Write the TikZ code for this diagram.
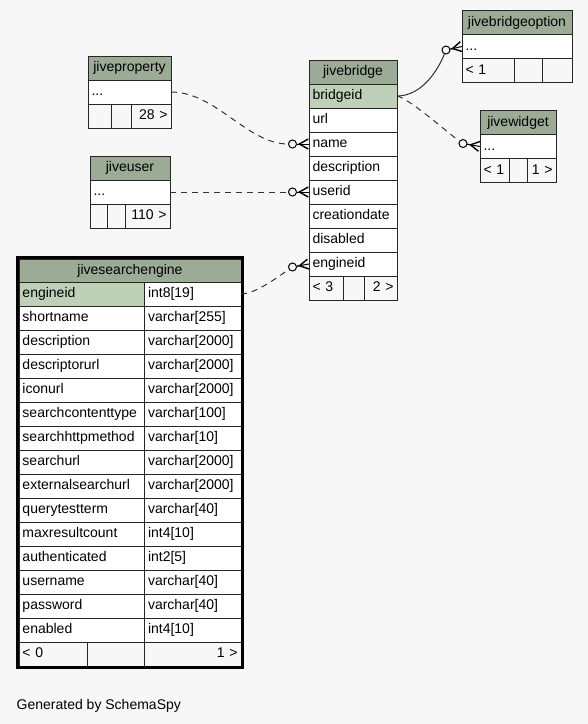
\documentclass[tikz,border=0pt]{standalone}
\usepackage{fontspec}
\setmainfont{Liberation Sans}
\usetikzlibrary{arrows.meta, positioning, fit}
\definecolor{cHead}{HTML}{9BAB96}
\definecolor{cKey}{HTML}{BED1B8}
\definecolor{cBack}{HTML}{F7F7F7}
\definecolor{cLine}{HTML}{262626}
\tikzset{
	tblrow/.style  ={rectangle, draw=cLine, line width=1pt, inner ysep=0pt, inner xsep=3.5pt, outer sep=0pt, minimum height=24pt, text height=10.5pt, text depth=3pt, text width=#1, align=left, fill=white},
	tblhead/.style ={tblrow=#1, fill=cHead, align=center},
	tblpk/.style   ={tblrow=#1, fill=cKey},
	tblfoot/.style ={tblrow=#1, fill=cBack},
	tblfootr/.style={tblrow=#1, fill=cBack, align=right},
	ring/.style    ={circle, draw=black, line width=1pt, fill=cBack, minimum size=8pt, inner sep=0pt},
	rel/.style     ={draw=black!80, line width=1pt},
	reldash/.style ={rel, dash pattern=on 6pt off 5pt},
	crow/.style    ={draw=black, line width=1pt, -{Straight Barb[reversed, length=9pt, width=10pt, line width=1.4pt]}, postaction={draw, arrows=-}},
}
\begin{document}
\begin{tikzpicture}[x=1pt, y=-1pt, font=\fontsize{14}{16}\selectfont]
\useasboundingbox[fill=cBack] (0,0) rectangle (588,724);
% jiveproperty
\node[tblhead=76pt, anchor=north west] (jp) at (88,56) {jiveproperty};
\node[tblrow=76pt, below=0pt of jp] (jp-dots) {...};
\node[tblfoot=16pt, anchor=north west] (jp-f1) at (jp-dots.south west) {};
\node[tblfoot=13pt, right=0pt of jp-f1] (jp-f2) {};
\node[tblfootr=33pt, right=0pt of jp-f2] (jp-f3) {28 >};
% jiveuser
\node[tblhead=73pt, anchor=north west] (ju) at (90,156) {jiveuser};
\node[tblrow=73pt, below=0pt of ju] (ju-dots) {...};
\node[tblfoot=10pt, anchor=north west] (ju-f1) at (ju-dots.south west) {};
\node[tblfoot=11pt, right=0pt of ju-f1] (ju-f2) {};
\node[tblfootr=38pt, right=0pt of ju-f2] (ju-f3) {110 >};
% jivebridge
\node[tblhead=81pt, anchor=north west] (jb) at (309,60) {jivebridge};
\node[tblpk=81pt, below=0pt of jb] (jb-bridgeid) {bridgeid};
\node[tblrow=81pt, below=0pt of jb-bridgeid] (jb-url) {url};
\node[tblrow=81pt, below=0pt of jb-url] (jb-name) {name};
\node[tblrow=81pt, below=0pt of jb-name] (jb-description) {description};
\node[tblrow=81pt, below=0pt of jb-description] (jb-userid) {userid};
\node[tblrow=81pt, below=0pt of jb-userid] (jb-creationdate) {creationdate};
\node[tblrow=81pt, below=0pt of jb-creationdate] (jb-disabled) {disabled};
\node[tblrow=81pt, below=0pt of jb-disabled] (jb-engineid) {engineid};
\node[tblfoot=27pt, anchor=north west] (jb-f1) at (jb-engineid.south west) {< 3};
\node[tblfoot=14pt, right=0pt of jb-f1] (jb-f2) {};
\node[tblfootr=26pt, right=0pt of jb-f2] (jb-f3) {2 >};
% jivebridgeoption
\node[tblhead=103pt, anchor=north west] (jbo) at (462,10.5) {jivebridgeoption};
\node[tblrow=103pt, below=0pt of jbo] (jbo-dots) {...};
\node[tblfoot=45pt, anchor=north west] (jbo-f1) at (jbo-dots.south west) {< 1};
\node[tblfoot=21.5pt, right=0pt of jbo-f1] (jbo-f2) {};
\node[tblfoot=22.5pt, right=0pt of jbo-f2] (jbo-f3) {};
% jivewidget
\node[tblhead=69pt, anchor=north west] (jw) at (480,110.5) {jivewidget};
\node[tblrow=69pt, below=0pt of jw] (jw-dots) {...};
\node[tblfoot=22.5pt, anchor=north west] (jw-f1) at (jw-dots.south west) {< 1};
\node[tblfoot=10.5pt, right=0pt of jw-f1] (jw-f2) {};
\node[tblfootr=22pt, right=0pt of jw-f2] (jw-f3) {1 >};
% jivesearchengine
\node[tblhead=215pt, minimum height=23pt, anchor=north west] (se) at (19,259) {jivesearchengine};
\node[tblpk=118.5pt, anchor=north west] (se-engineid) at (se.south west) {engineid};
\node[tblrow=89.5pt, right=0pt of se-engineid] (se-engineid-t) {int8[19]};
\node[tblrow=118.5pt, below=0pt of se-engineid] (se-shortname) {shortname};
\node[tblrow=89.5pt, right=0pt of se-shortname] (se-shortname-t) {varchar[255]};
\node[tblrow=118.5pt, below=0pt of se-shortname] (se-description) {description};
\node[tblrow=89.5pt, right=0pt of se-description] (se-description-t) {varchar[2000]};
\node[tblrow=118.5pt, below=0pt of se-description] (se-descriptorurl) {descriptorurl};
\node[tblrow=89.5pt, right=0pt of se-descriptorurl] (se-descriptorurl-t) {varchar[2000]};
\node[tblrow=118.5pt, below=0pt of se-descriptorurl] (se-iconurl) {iconurl};
\node[tblrow=89.5pt, right=0pt of se-iconurl] (se-iconurl-t) {varchar[2000]};
\node[tblrow=118.5pt, below=0pt of se-iconurl] (se-searchcontenttype) {searchcontenttype};
\node[tblrow=89.5pt, right=0pt of se-searchcontenttype] (se-searchcontenttype-t) {varchar[100]};
\node[tblrow=118.5pt, below=0pt of se-searchcontenttype] (se-searchhttpmethod) {searchhttpmethod};
\node[tblrow=89.5pt, right=0pt of se-searchhttpmethod] (se-searchhttpmethod-t) {varchar[10]};
\node[tblrow=118.5pt, below=0pt of se-searchhttpmethod] (se-searchurl) {searchurl};
\node[tblrow=89.5pt, right=0pt of se-searchurl] (se-searchurl-t) {varchar[2000]};
\node[tblrow=118.5pt, below=0pt of se-searchurl] (se-externalsearchurl) {externalsearchurl};
\node[tblrow=89.5pt, right=0pt of se-externalsearchurl] (se-externalsearchurl-t) {varchar[2000]};
\node[tblrow=118.5pt, below=0pt of se-externalsearchurl] (se-querytestterm) {querytestterm};
\node[tblrow=89.5pt, right=0pt of se-querytestterm] (se-querytestterm-t) {varchar[40]};
\node[tblrow=118.5pt, below=0pt of se-querytestterm] (se-maxresultcount) {maxresultcount};
\node[tblrow=89.5pt, right=0pt of se-maxresultcount] (se-maxresultcount-t) {int4[10]};
\node[tblrow=118.5pt, below=0pt of se-maxresultcount] (se-authenticated) {authenticated};
\node[tblrow=89.5pt, right=0pt of se-authenticated] (se-authenticated-t) {int2[5]};
\node[tblrow=118.5pt, below=0pt of se-authenticated] (se-username) {username};
\node[tblrow=89.5pt, right=0pt of se-username] (se-username-t) {varchar[40]};
\node[tblrow=118.5pt, below=0pt of se-username] (se-password) {password};
\node[tblrow=89.5pt, right=0pt of se-password] (se-password-t) {varchar[40]};
\node[tblrow=118.5pt, below=0pt of se-password] (se-enabled) {enabled};
\node[tblrow=89.5pt, right=0pt of se-enabled] (se-enabled-t) {int4[10]};
\node[tblfoot=61.3pt, anchor=north west] (se-f1) at (se-enabled.south west) {< 0};
\node[tblfoot=50.2pt, right=0pt of se-f1] (se-f2) {};
\node[tblfootr=89.5pt, right=0pt of se-f2] (se-f3) {1 >};
\node[fit=(se)(se-f3), draw=black, line width=2.6pt, inner sep=1.3pt] (se-box) {};
% relationships
\node[ring, left=12pt of jb-name.west] (c-name) {};
\node[ring, left=12pt of jb-userid.west] (c-user) {};
\node[ring, left=12pt of jb-engineid.west, yshift=-3pt] (c-eng) {};
\node[ring, left=11.5pt of jbo-dots.west, yshift=-3.5pt] (c-opt) {};
\node[ring, left=12.5pt of jw-dots.west, yshift=3pt] (c-wid) {};
\draw[reldash] (jp-dots.east) .. controls +(45,0) and +(-45,0) .. (c-name);
\draw[reldash] (ju-dots.east) -- (c-user);
\draw[reldash] (se-engineid-t.east) .. controls +(15,0) and +(-12,8) .. (c-eng);
\draw[rel] (jb-bridgeid.east) .. controls +(25,0) and +(-8,20) .. (c-opt);
\draw[reldash] (jb-bridgeid.east) .. controls +(12,2) and +(-12,-8) .. (c-wid);
\draw[crow] (c-name) -- (jb-name.west);
\draw[crow] (c-user) -- (jb-userid.west);
\draw[crow] (c-eng) -- (jb-engineid.west);
\draw[crow] (c-opt) -- (jbo-dots.west);
\draw[crow] (c-wid) -- (jw-dots.west);
\node[anchor=base west, inner sep=0pt] (gen) at (16.5,709) {Generated by SchemaSpy};
\end{tikzpicture}
\end{document}
